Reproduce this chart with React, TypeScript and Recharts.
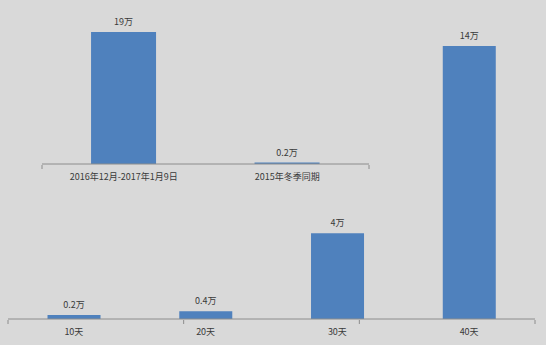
import { Bar, BarChart, LabelList, XAxis, YAxis } from "recharts";

// main chart: days
const dayCategories = ["10天", "20天", "30天", "40天"];
const dayValues = [0.2, 0.4, 4.4, 14];
const dayLabels = ["0.2万", "0.4万", "4万", "14万"];

// inset: season comparison
const seasonCategories = ["2016年12月-2017年1月9日", "2015年冬季同期"];
const seasonValues = [19, 0.2];
const seasonLabels = ["19万", "0.2万"];

const BAR = "#4f81bd";
const AXIS = "#8c8c8c";
const TEXT = "#3a3a3a";
const FONT = '"Noto Sans CJK SC", "Noto Sans", sans-serif';
const FONT_SIZE = 9;

const dayData = dayCategories.map((name, i) => ({
  name,
  value: dayValues[i],
  label: dayLabels[i],
}));

const seasonData = seasonCategories.map((name, i) => ({
  name,
  value: seasonValues[i],
  label: seasonLabels[i],
}));

function CategoryChart({
  data,
  width,
  height,
  margin,
  max,
}: {
  data: { name: string; value: number; label: string }[];
  width: number;
  height: number;
  margin: { top: number; right: number; bottom: number; left: number };
  max: number;
}) {
  const n = data.length;
  const edges = Array.from({ length: n + 1 }, (_, i) => i);
  return (
    <BarChart
      width={width}
      height={height}
      data={data}
      margin={margin}
      barCategoryGap="30%"
    >
      <XAxis
        xAxisId="cat"
        dataKey="name"
        height={1}
        interval={0}
        tickLine={false}
        tickSize={6}
        tickMargin={4}
        axisLine={{ stroke: AXIS }}
        tick={{ fill: TEXT, fontSize: FONT_SIZE, fontFamily: FONT }}
      />
      <XAxis
        xAxisId="edge"
        type="number"
        domain={[0, n]}
        ticks={edges}
        allowDataOverflow
        height={1}
        interval={0}
        axisLine={false}
        tickLine={{ stroke: AXIS }}
        tickSize={4}
        tickFormatter={() => ""}
      />
      <YAxis hide domain={[0, max]} />
      <Bar
        xAxisId="cat"
        dataKey="value"
        fill={BAR}
        isAnimationActive={false}
      >
        <LabelList
          dataKey="label"
          position="top"
          offset={7}
          fill={TEXT}
          fontSize={FONT_SIZE}
          fontFamily={FONT}
        />
      </Bar>
    </BarChart>
  );
}

export default function App() {
  return (
    <div
      style={{
        position: "absolute",
        left: 0,
        top: 0,
        width: 546,
        height: 345,
        background: "#d9d9d9",
        fontFamily: FONT,
      }}
    >
      <div style={{ position: "absolute", left: 0, top: 0 }}>
        <CategoryChart
          data={dayData}
          width={546}
          height={345}
          margin={{ top: 46, right: 11, bottom: 24, left: 8 }}
          max={14}
        />
      </div>
      <div style={{ position: "absolute", left: 0, top: 0 }}>
        <CategoryChart
          data={seasonData}
          width={380}
          height={190}
          margin={{ top: 32, right: 11, bottom: 24, left: 42 }}
          max={19}
        />
      </div>
    </div>
  );
}
